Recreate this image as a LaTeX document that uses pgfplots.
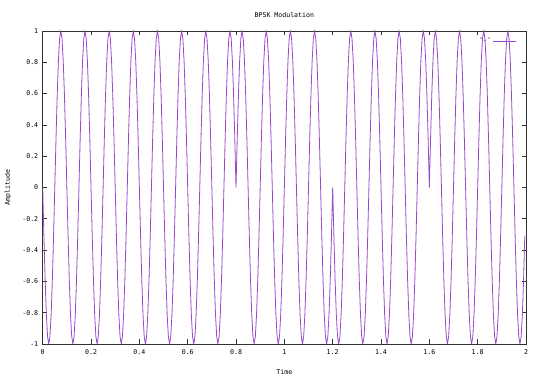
\documentclass[border=0pt]{standalone}
\usepackage{fontspec}
\setmainfont{DejaVu Sans Mono}
\usepackage{pgfplots}
\pgfplotsset{compat=1.18}
\definecolor{gpv}{RGB}{152,72,200}
\newcommand{\gpf}{\fontsize{6.6}{8}\selectfont}
\begin{document}
\begin{tikzpicture}
\begin{axis}[
  at={(0,0)}, anchor=south west,
  scale only axis, width=483.3bp, height=313bp,
  xmin=0, xmax=2, ymin=-1, ymax=1,
  xtick={0,0.2,0.4,0.6,0.8,1,1.2,1.4,1.6,1.8,2},
  ytick={-1,-0.8,-0.6,-0.4,-0.2,0,0.2,0.4,0.6,0.8,1},
  tick align=inside, major tick length=4.5bp,
  axis line style={black!80, line width=0.6bp},
  tick style={black!80, line width=0.6bp},
  /pgf/number format/assume math mode=true,
  ticklabel style={font=\gpf},
  xticklabel style={yshift=-2bp},
  yticklabel style={xshift=-1bp},
  title={BPSK Modulation}, xlabel={Time}, ylabel={Amplitude},
  every axis title/.style={at={(0.5,1)}, anchor=center, yshift=16bp, font=\gpf},
  every axis x label/.style={at={(0.5,0)}, anchor=center, yshift=-28bp, font=\gpf},
  every axis y label/.style={at={(0,0.5)}, xshift=-34.7bp, rotate=90, anchor=center, font=\gpf},
  legend style={draw=none, fill=none, at={(1,1)}, anchor=north east, xshift=-8bp, yshift=-4bp, font=\gpf, inner sep=1pt, text=black},
  legend plot pos=right,
  legend image code/.code={\draw[gpv, line width=0.8bp] (0bp,0bp) -- (23bp,0bp);},
]
\addplot[color=gpv, line width=0.8bp, mark=none] coordinates {
(0,0)(0.005,-0.309)(0.01,-0.588)(0.015,-0.809)(0.02,-0.951)(0.025,-1)(0.03,-0.951)(0.035,-0.809)(0.04,-0.588)(0.045,-0.309)(0.05,0)(0.055,0.309)(0.06,0.588)(0.065,0.809)(0.07,0.951)(0.075,1)(0.08,0.951)(0.085,0.809)(0.09,0.588)(0.095,0.309)
(0.1,0)(0.105,-0.309)(0.11,-0.588)(0.115,-0.809)(0.12,-0.951)(0.125,-1)(0.13,-0.951)(0.135,-0.809)(0.14,-0.588)(0.145,-0.309)(0.15,0)(0.155,0.309)(0.16,0.588)(0.165,0.809)(0.17,0.951)(0.175,1)(0.18,0.951)(0.185,0.809)(0.19,0.588)(0.195,0.309)
(0.2,0)(0.205,-0.309)(0.21,-0.588)(0.215,-0.809)(0.22,-0.951)(0.225,-1)(0.23,-0.951)(0.235,-0.809)(0.24,-0.588)(0.245,-0.309)(0.25,0)(0.255,0.309)(0.26,0.588)(0.265,0.809)(0.27,0.951)(0.275,1)(0.28,0.951)(0.285,0.809)(0.29,0.588)(0.295,0.309)
(0.3,0)(0.305,-0.309)(0.31,-0.588)(0.315,-0.809)(0.32,-0.951)(0.325,-1)(0.33,-0.951)(0.335,-0.809)(0.34,-0.588)(0.345,-0.309)(0.35,0)(0.355,0.309)(0.36,0.588)(0.365,0.809)(0.37,0.951)(0.375,1)(0.38,0.951)(0.385,0.809)(0.39,0.588)(0.395,0.309)
(0.4,0)(0.405,-0.309)(0.41,-0.588)(0.415,-0.809)(0.42,-0.951)(0.425,-1)(0.43,-0.951)(0.435,-0.809)(0.44,-0.588)(0.445,-0.309)(0.45,0)(0.455,0.309)(0.46,0.588)(0.465,0.809)(0.47,0.951)(0.475,1)(0.48,0.951)(0.485,0.809)(0.49,0.588)(0.495,0.309)
(0.5,0)(0.505,-0.309)(0.51,-0.588)(0.515,-0.809)(0.52,-0.951)(0.525,-1)(0.53,-0.951)(0.535,-0.809)(0.54,-0.588)(0.545,-0.309)(0.55,0)(0.555,0.309)(0.56,0.588)(0.565,0.809)(0.57,0.951)(0.575,1)(0.58,0.951)(0.585,0.809)(0.59,0.588)(0.595,0.309)
(0.6,0)(0.605,-0.309)(0.61,-0.588)(0.615,-0.809)(0.62,-0.951)(0.625,-1)(0.63,-0.951)(0.635,-0.809)(0.64,-0.588)(0.645,-0.309)(0.65,0)(0.655,0.309)(0.66,0.588)(0.665,0.809)(0.67,0.951)(0.675,1)(0.68,0.951)(0.685,0.809)(0.69,0.588)(0.695,0.309)
(0.7,0)(0.705,-0.309)(0.71,-0.588)(0.715,-0.809)(0.72,-0.951)(0.725,-1)(0.73,-0.951)(0.735,-0.809)(0.74,-0.588)(0.745,-0.309)(0.75,0)(0.755,0.309)(0.76,0.588)(0.765,0.809)(0.77,0.951)(0.775,1)(0.78,0.951)(0.785,0.809)(0.79,0.588)(0.795,0.309)
(0.8,0)(0.805,0.309)(0.81,0.588)(0.815,0.809)(0.82,0.951)(0.825,1)(0.83,0.951)(0.835,0.809)(0.84,0.588)(0.845,0.309)(0.85,0)(0.855,-0.309)(0.86,-0.588)(0.865,-0.809)(0.87,-0.951)(0.875,-1)(0.88,-0.951)(0.885,-0.809)(0.89,-0.588)(0.895,-0.309)
(0.9,0)(0.905,0.309)(0.91,0.588)(0.915,0.809)(0.92,0.951)(0.925,1)(0.93,0.951)(0.935,0.809)(0.94,0.588)(0.945,0.309)(0.95,0)(0.955,-0.309)(0.96,-0.588)(0.965,-0.809)(0.97,-0.951)(0.975,-1)(0.98,-0.951)(0.985,-0.809)(0.99,-0.588)(0.995,-0.309)
(1,0)(1.005,0.309)(1.01,0.588)(1.015,0.809)(1.02,0.951)(1.025,1)(1.03,0.951)(1.035,0.809)(1.04,0.588)(1.045,0.309)(1.05,0)(1.055,-0.309)(1.06,-0.588)(1.065,-0.809)(1.07,-0.951)(1.075,-1)(1.08,-0.951)(1.085,-0.809)(1.09,-0.588)(1.095,-0.309)
(1.1,0)(1.105,0.309)(1.11,0.588)(1.115,0.809)(1.12,0.951)(1.125,1)(1.13,0.951)(1.135,0.809)(1.14,0.588)(1.145,0.309)(1.15,0)(1.155,-0.309)(1.16,-0.588)(1.165,-0.809)(1.17,-0.951)(1.175,-1)(1.18,-0.951)(1.185,-0.809)(1.19,-0.588)(1.195,-0.309)
(1.2,0)(1.205,-0.309)(1.21,-0.588)(1.215,-0.809)(1.22,-0.951)(1.225,-1)(1.23,-0.951)(1.235,-0.809)(1.24,-0.588)(1.245,-0.309)(1.25,0)(1.255,0.309)(1.26,0.588)(1.265,0.809)(1.27,0.951)(1.275,1)(1.28,0.951)(1.285,0.809)(1.29,0.588)(1.295,0.309)
(1.3,0)(1.305,-0.309)(1.31,-0.588)(1.315,-0.809)(1.32,-0.951)(1.325,-1)(1.33,-0.951)(1.335,-0.809)(1.34,-0.588)(1.345,-0.309)(1.35,0)(1.355,0.309)(1.36,0.588)(1.365,0.809)(1.37,0.951)(1.375,1)(1.38,0.951)(1.385,0.809)(1.39,0.588)(1.395,0.309)
(1.4,0)(1.405,-0.309)(1.41,-0.588)(1.415,-0.809)(1.42,-0.951)(1.425,-1)(1.43,-0.951)(1.435,-0.809)(1.44,-0.588)(1.445,-0.309)(1.45,0)(1.455,0.309)(1.46,0.588)(1.465,0.809)(1.47,0.951)(1.475,1)(1.48,0.951)(1.485,0.809)(1.49,0.588)(1.495,0.309)
(1.5,0)(1.505,-0.309)(1.51,-0.588)(1.515,-0.809)(1.52,-0.951)(1.525,-1)(1.53,-0.951)(1.535,-0.809)(1.54,-0.588)(1.545,-0.309)(1.55,0)(1.555,0.309)(1.56,0.588)(1.565,0.809)(1.57,0.951)(1.575,1)(1.58,0.951)(1.585,0.809)(1.59,0.588)(1.595,0.309)
(1.6,0)(1.605,0.309)(1.61,0.588)(1.615,0.809)(1.62,0.951)(1.625,1)(1.63,0.951)(1.635,0.809)(1.64,0.588)(1.645,0.309)(1.65,0)(1.655,-0.309)(1.66,-0.588)(1.665,-0.809)(1.67,-0.951)(1.675,-1)(1.68,-0.951)(1.685,-0.809)(1.69,-0.588)(1.695,-0.309)
(1.7,0)(1.705,0.309)(1.71,0.588)(1.715,0.809)(1.72,0.951)(1.725,1)(1.73,0.951)(1.735,0.809)(1.74,0.588)(1.745,0.309)(1.75,0)(1.755,-0.309)(1.76,-0.588)(1.765,-0.809)(1.77,-0.951)(1.775,-1)(1.78,-0.951)(1.785,-0.809)(1.79,-0.588)(1.795,-0.309)
(1.8,0)(1.805,0.309)(1.81,0.588)(1.815,0.809)(1.82,0.951)(1.825,1)(1.83,0.951)(1.835,0.809)(1.84,0.588)(1.845,0.309)(1.85,0)(1.855,-0.309)(1.86,-0.588)(1.865,-0.809)(1.87,-0.951)(1.875,-1)(1.88,-0.951)(1.885,-0.809)(1.89,-0.588)(1.895,-0.309)
(1.9,0)(1.905,0.309)(1.91,0.588)(1.915,0.809)(1.92,0.951)(1.925,1)(1.93,0.951)(1.935,0.809)(1.94,0.588)(1.945,0.309)(1.95,0)(1.955,-0.309)(1.96,-0.588)(1.965,-0.809)(1.97,-0.951)(1.975,-1)(1.98,-0.951)(1.985,-0.809)(1.99,-0.588)(1.995,-0.309)
};
\addlegendentry{\textquotesingle-\textquotesingle}
\end{axis}
\pgfresetboundingbox
\path (-42.7bp,-45bp) rectangle (497.3bp,344bp);
\end{tikzpicture}
\end{document}
